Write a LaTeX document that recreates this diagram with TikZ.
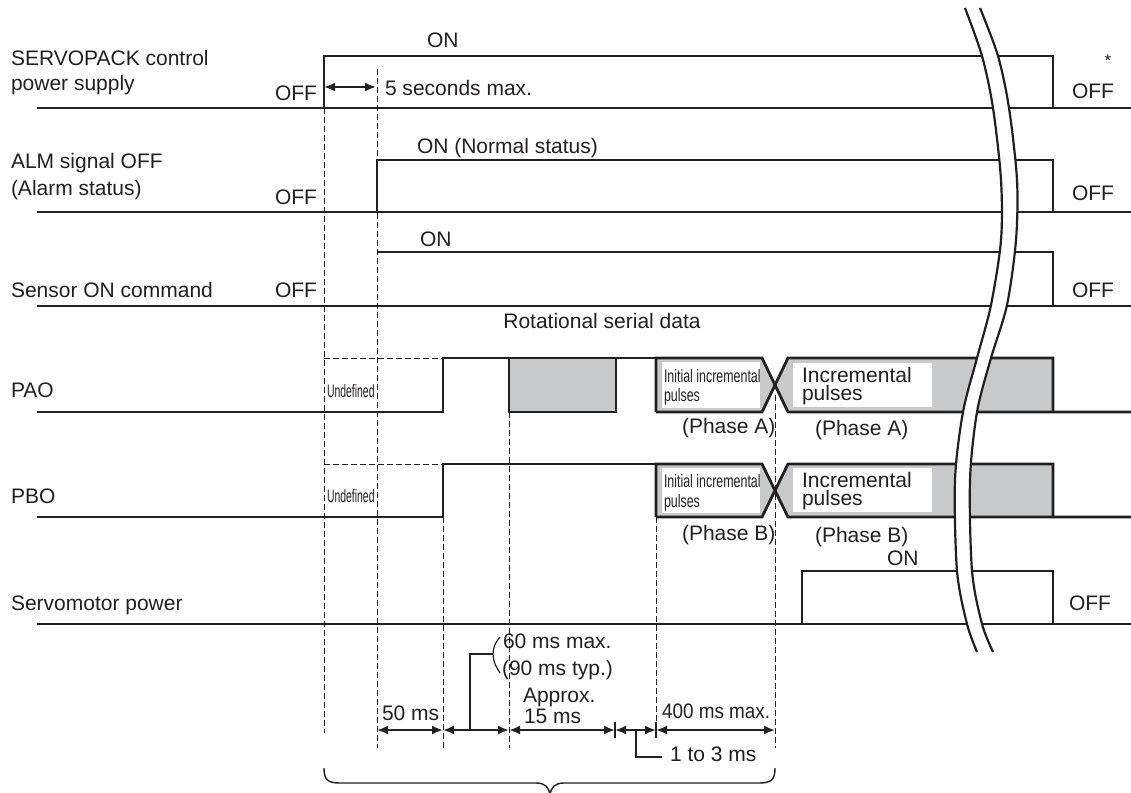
\documentclass[tikz,border=0pt]{standalone}
\usepackage{fontspec}
\usepackage{graphicx}
\setmainfont{Liberation Sans}
\usetikzlibrary{arrows.meta}
\definecolor{ink}{HTML}{231F20}
\definecolor{pgrey}{HTML}{C8C9CB}
\begin{document}
\begin{tikzpicture}[x=1pt,y=-1pt,
  sig/.style={draw=ink, line width=2.8pt, line join=miter},
  thinl/.style={draw=ink, line width=1.2pt},
  dsh/.style={draw=ink, line width=1pt, dash pattern=on 6pt off 3pt},
  dimarr/.style={draw=ink, line width=2pt, {Latex[length=11pt,width=9pt]}-{Latex[length=11pt,width=9pt]}},
  txt/.style={inner sep=0pt, outer sep=0pt, text=ink, font=\fontsize{21}{25}\selectfont, anchor=base west},
  txtf/.style={txt, text depth=0pt},
  txte/.style={txt, anchor=base east},
  two/.style={inner sep=0pt, outer sep=0pt, text=ink, font=\fontsize{21}{18}\selectfont, align=left, anchor=base west},
  cond/.style={inner sep=0pt, outer sep=0pt, text=ink, font=\fontsize{18}{18}\selectfont, anchor=base west},
  condf/.style={cond, text depth=0pt},
  wbox/.style={fill=white, draw=none}]
\useasboundingbox (0,0) rectangle (1131,792);

% ---------- labels on the left ----------
\node[txtf] (l1a) at (11,65) {SERVOPACK control};
\node[txt] (l1b) at (11,90) {power supply};
\node[txtf] (l2a) at (11,168) {ALM signal OFF};
\node[txt] (l2b) at (11,195) {(Alarm status)};
\node[txt] (l3) at (11,297) {Sensor ON command};
\node[txt] (l4) at (11,397) {PAO};
\node[txt] (l5) at (11,503) {PBO};
\node[txt] (l6) at (11,610) {Servomotor power};

% ---------- dashed guide lines ----------
\draw[dsh] (324,108) -- (324,733);
\draw[dsh] (377,69) -- (377,748);
\draw[dsh] (443,517) -- (443,748);
\draw[dsh] (509,412) -- (509,748);
\draw[dsh] (656,517) -- (656,737);
\draw[dsh] (775,395) -- (775,748);
\draw[dsh] (324,358) -- (443,358);
\draw[dsh] (324,464) -- (443,464);

% ---------- row 1: SERVOPACK control power supply ----------
\draw[sig] (37,108) -- (324,108) -- (324,56) -- (1053,56) -- (1053,108) -- (1131,108);
\draw[thinl] (324,108) -- (1053,108);
\node[txte] (off1) at (317,100) {OFF};
\node[txt] (on1) at (427,48) {ON};
\node[txt] (off1r) at (1072,98) {OFF};
\node[inner sep=0pt, text=ink, font=\fontsize{17}{17}\selectfont] (ast) at (1108,61) {*};
\coordinate (a5l) at (324,87);
\coordinate (a5r) at (376,87);
\draw[dimarr] (a5l) -- (a5r);
\node[txt] (t5s) at (385,95) {5 seconds max.};

% ---------- row 2: ALM ----------
\draw[sig] (37,212) -- (377,212) -- (377,160) -- (1053,160) -- (1053,212) -- (1131,212);
\draw[thinl] (377,212) -- (1053,212);
\node[txte] (off2) at (317,204) {OFF};
\node[txt] (on2) at (417,153) {ON (Normal status)};
\node[txt] (off2r) at (1072,200) {OFF};

% ---------- row 3: Sensor ON ----------
\draw[sig] (37,306) -- (377,306);
\draw[sig] (377,252) -- (1053,252) -- (1053,306) -- (1131,306);
\draw[thinl] (377,306) -- (1053,306);
\node[txte] (off3) at (317,297) {OFF};
\node[txt] (on3) at (420,246) {ON};
\node[txt] (off3r) at (1072,297) {OFF};
\node[inner sep=0pt, text=ink, font=\fontsize{21}{25}\selectfont, anchor=base] (rsd) at (602,328) {Rotational serial data};

% ---------- row 4: PAO ----------
\draw[sig] (37,412) -- (443,412) -- (443,358) -- (509,358);
\filldraw[sig, fill=pgrey] (509,358) rectangle (616,412);
\draw[sig] (616,358) -- (656,358);
\fill[pgrey] (656,358) -- (762,358) -- (775,385) -- (762,412) -- (656,412) -- cycle;
\fill[pgrey] (775,385) -- (788,358) -- (1053,358) -- (1053,412) -- (788,412) -- cycle;
\fill[wbox] (662,362) rectangle (760,408);
\fill[wbox] (793,363) rectangle (932,407);
\draw[sig] (656,412) -- (656,358) -- (762,358) -- (788,412) -- (1053,412) -- (1131,412);
\draw[sig] (656,412) -- (762,412) -- (788,358) -- (1053,358) -- (1053,412);
\node[cond] (und4) at (327,397) {\scalebox{0.58}[1]{Undefined}};
\node[condf] (ii4a) at (664,382) {\scalebox{0.69}[1]{Initial incremental}};
\node[cond] (ii4b) at (664,401) {\scalebox{0.69}[1]{pulses}};
\node[two] (ip4) at (802,400) {Incremental\\pulses};
\node[txt] (pa1) at (682,433) {(Phase A)};
\node[txt] (pa2) at (815,435) {(Phase A)};

% ---------- row 5: PBO ----------
\draw[sig] (37,517) -- (443,517) -- (443,464) -- (656,464);
\fill[pgrey] (656,464) -- (762,464) -- (775,490.5) -- (762,517) -- (656,517) -- cycle;
\fill[pgrey] (775,490.5) -- (788,464) -- (1053,464) -- (1053,517) -- (788,517) -- cycle;
\fill[wbox] (662,468) rectangle (760,513);
\fill[wbox] (793,468) rectangle (932,512);
\draw[sig] (656,517) -- (656,464) -- (762,464) -- (788,517) -- (1053,517) -- (1131,517);
\draw[sig] (656,517) -- (762,517) -- (788,464) -- (1053,464) -- (1053,517);
\node[cond] (und5) at (327,502) {\scalebox{0.58}[1]{Undefined}};
\node[condf] (ii5a) at (664,487) {\scalebox{0.69}[1]{Initial incremental}};
\node[cond] (ii5b) at (664,507) {\scalebox{0.69}[1]{pulses}};
\node[two] (ip5) at (802,505) {Incremental\\pulses};
\node[txt] (pb1) at (682,540) {(Phase B)};
\node[txt] (pb2) at (815,542) {(Phase B)};

% ---------- row 6: Servomotor power ----------
\draw[sig] (37,624) -- (802,624) -- (802,571) -- (1053,571) -- (1053,624) -- (1131,624);
\draw[thinl] (802,624) -- (1053,624);
\node[txt] (on6) at (887,565) {ON};
\node[txt] (off6r) at (1069,610) {OFF};

% ---------- timing dimensions ----------
\coordinate (d1) at (377,730);
\coordinate (d2) at (443,730);
\coordinate (d3) at (509,730);
\coordinate (d4) at (615,730);
\coordinate (d5) at (656,730);
\coordinate (d6) at (775,730);
\draw[dimarr] (d1) -- (d2);
\draw[dimarr] (d2) -- (d3);
\draw[dimarr] (d3) -- (d4);
\draw[dimarr] (d4) -- (d5);
\draw[dimarr] (d5) -- (d6);
\draw[draw=ink, line width=1.4pt] (615,722) -- (615,738);
\draw[draw=ink, line width=1.4pt] (656,722) -- (656,738);
\node[txt] (t50) at (382,720) {50 ms};
\node[txt] (t60) at (503,648) {60 ms max.};
\node[txt] (t90) at (502,675) {(90 ms typ.)};
\coordinate (p60) at (470,730);
\draw[thinl] (p60) -- (470,654) -- (493,654);
\draw[thinl] (500,637) .. controls (494,645) .. (493,654) .. controls (494,663) .. (500,673);
\node[txt] (tap) at (523,702) {Approx.};
\node[txt] (t15) at (524,723) {15 ms};
\node[txt] (t400) at (662,718) {\scalebox{0.9}[1]{400 ms max.}};
\coordinate (p13) at (636,730);
\draw[thinl] (p13) -- (636,757) -- (662,757);
\node[txt] (t13) at (670,761) {1 to 3 ms};

% ---------- brace ----------
\draw[draw=ink, line width=1.4pt] (324,768) .. controls (324,780) and (328,783) .. (340,783)
  -- (536,783) .. controls (545,783) and (549,787) .. (550,795);
\draw[draw=ink, line width=1.4pt] (775,768) .. controls (775,780) and (771,783) .. (759,783)
  -- (564,783) .. controls (555,783) and (551,787) .. (550,795);

% ---------- break mark ----------
\fill[white] plot[smooth] coordinates {(965,8) (982,56) (993,108) (1001,180) (1001,240) (991,305) (977,358) (963,412) (955,480) (957,571) (967,624) (977,652)}
  -- plot[smooth] coordinates {(993,652) (982,624) (972,571) (970,480) (977,412) (991,358) (1007,305) (1016,240) (1017,180) (1009,108) (998,56) (980,8)} -- cycle;
\draw[draw=ink, line width=2.2pt] plot[smooth] coordinates {(965,8) (982,56) (993,108) (1001,180) (1001,240) (991,305) (977,358) (963,412) (955,480) (957,571) (967,624) (977,652)};
\draw[draw=ink, line width=2.2pt] plot[smooth] coordinates {(980,8) (998,56) (1009,108) (1017,180) (1016,240) (1007,305) (991,358) (977,412) (970,480) (972,571) (982,624) (993,652)};
\end{tikzpicture}
\end{document}
